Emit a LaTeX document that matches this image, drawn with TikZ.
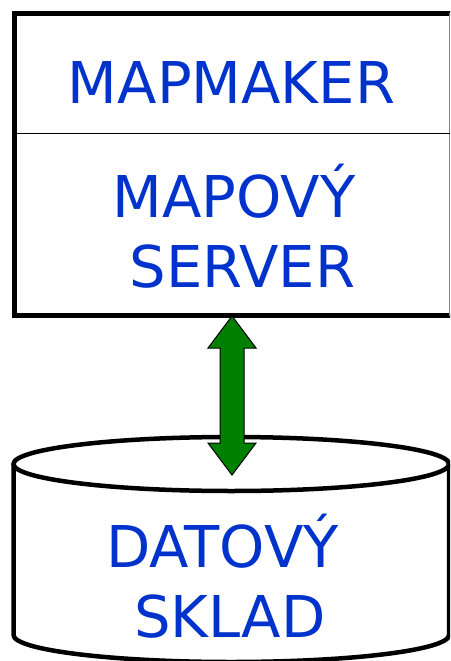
\documentclass[tikz,border=0pt]{standalone}
\usepackage{fontspec}
\setmainfont{DejaVu Sans}
\definecolor{txtblue}{RGB}{0,51,204}
\definecolor{arrgreen}{RGB}{0,128,0}
\tikzset{
  lbl/.style={anchor=base, inner sep=0pt, text=txtblue, font=\fontsize{57.6}{70}\selectfont},
  thickline/.style={line width=4.5pt, black},
}
\begin{document}
\begin{tikzpicture}[x=1pt, y=-1pt]
\useasboundingbox (0,0) rectangle (450,661);
\clip (0,0) rectangle (450,661);
\fill[white] (0,0) rectangle (450,661);
% upper box
\draw[thickline] (452,13.5) -- (14.5,13.5) -- (14.5,315.5) -- (452,315.5);
\draw[gray, line width=1pt] (449.5,13.5) -- (449.5,315.5);
\draw[black, line width=1.5pt] (14.5,133.5) -- (452,133.5);
% cylinder
\draw[thickline, fill=white] (13.5,464) -- (13.5,635) arc[start angle=180, end angle=0, x radius=217.75, y radius=27] -- (449,464);
\draw[thickline, fill=white] (231.25,464) ellipse[x radius=217.75, y radius=27];
% texts
\node[lbl] (t1) at (231.5,103) {MAPMAKER};
\node[lbl] (t2) at (234,217) {MAPOVÝ};
\node[lbl] (t3) at (242.5,287) {SERVER};
\node[lbl] (t4) at (222.5,567) {DATOVÝ};
\node[lbl] (t5) at (230,637) {SKLAD};
% double arrow
\draw[fill=arrgreen, draw=black, line width=1pt, line join=miter]
  (232,316) -- (256,348) -- (244,348) -- (244,443) -- (256,443) -- (232,475)
  -- (208,443) -- (220,443) -- (220,348) -- (208,348) -- cycle;
\end{tikzpicture}
\end{document}
